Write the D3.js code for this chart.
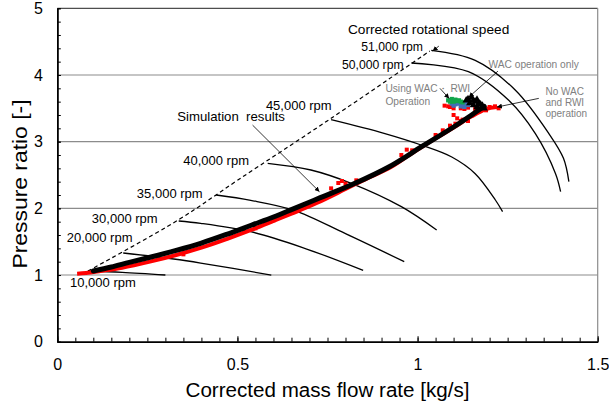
<!DOCTYPE html>
<html>
<head>
<meta charset="utf-8">
<script src="https://cdn.jsdelivr.net/npm/d3@7"></script>
<style>
  body { margin: 0; background: #fff; }
  svg text { font-family: "Liberation Sans", Arial, sans-serif; }
</style>
</head>
<body>
<div id="chart"></div>
<script>
//--------------------------------------Data---------------------------------------------------------------//
let xTicks = [0, 0.5, 1, 1.5]
let yTicks = [0, 1, 2, 3, 4, 5]
let gridValues = [1, 2, 3, 4]

// constant corrected-speed lines [mass flow, pressure ratio]
let speed10k = [[0.085, 1.06], [0.18, 1.04], [0.30, 1.00]]
let speed20k = [[0.183, 1.33], [0.323, 1.24], [0.398, 1.18], [0.594, 1.00]]
let speed30k = [[0.337, 1.81], [0.398, 1.775], [0.537, 1.65], [0.677, 1.42], [0.849, 1.07]]
let speed35k = [[0.441, 2.20], [0.537, 2.12], [0.657, 1.97], [0.80, 1.62], [0.963, 1.20]]
let speed40k = [[0.584, 2.675], [0.704, 2.575], [0.816, 2.375], [0.955, 2.025], [1.053, 1.675]]
let speed45k = [[0.760, 3.33], [0.907, 3.125], [1.01, 2.95], [1.095, 2.77], [1.16, 2.52], [1.216, 2.125], [1.236, 1.95]]
let speed50k = [[0.983, 4.18], [1.141, 4.05], [1.253, 3.62], [1.327, 3.12], [1.383, 2.52], [1.397, 2.25]]
let speed51k = [[1.038, 4.37], [1.160, 4.22], [1.271, 3.775], [1.364, 3.125], [1.405, 2.75], [1.420, 2.40]]
let speedLines = [speed10k, speed20k, speed30k, speed35k, speed40k, speed45k, speed50k, speed51k]

// surge line (dashed)
let surgeLine = [[0.085, 1.06], [0.337, 1.83], [0.50, 2.42], [0.76, 3.35], [1.034, 4.36]]

// simulation results (black)
let simResults = [[0.10, 1.06], [0.15, 1.12], [0.20, 1.19], [0.26, 1.27], [0.33, 1.37], [0.40, 1.48],
  [0.47, 1.61], [0.54, 1.75], [0.60, 1.87], [0.65, 1.98], [0.73, 2.16], [0.82, 2.36], [0.92, 2.62],
  [1.01, 2.92], [1.10, 3.22], [1.15, 3.40], [1.185, 3.53]]

// measured operation, no WAC / RWI (red)
let measured = [[0.055, 1.02], [0.08, 1.03], [0.12, 1.06], [0.18, 1.11], [0.26, 1.205], [0.33, 1.30],
  [0.40, 1.41], [0.47, 1.54], [0.54, 1.68], [0.60, 1.81], [0.65, 1.92], [0.72, 2.08], [0.80, 2.29],
  [0.86, 2.45], [0.92, 2.60], [0.98, 2.81], [1.05, 3.05], [1.10, 3.21], [1.15, 3.38], [1.19, 3.49], [1.22, 3.52]]
let measuredSpread = [[0.35, 1.31], [0.55, 1.70], [0.60, 1.82], [0.76, 2.30], [0.78, 2.38], [0.79, 2.41],
  [0.80, 2.37], [0.83, 2.42], [0.955, 2.80], [0.97, 2.88], [0.985, 2.87], [1.05, 3.10], [1.07, 3.17],
  [1.09, 3.24], [1.105, 3.27], [1.12, 3.31], [1.10, 3.40], [1.11, 3.35], [1.125, 3.33], [1.14, 3.31],
  [1.075, 3.54], [1.09, 3.52], [1.10, 3.50], [1.12, 3.50], [1.14, 3.51], [1.16, 3.49], [1.18, 3.50],
  [1.20, 3.52], [1.215, 3.53], [1.225, 3.50], [1.19, 3.47], [1.085, 3.53], [1.13, 3.49], [1.17, 3.48]]

// WAC and RWI operation (green), blue run, WAC operation only (black)
let wacRwiOp = [[1.085, 3.62], [1.095, 3.64], [1.105, 3.63], [1.115, 3.62], [1.09, 3.60], [1.10, 3.60],
  [1.11, 3.61], [1.12, 3.60], [1.125, 3.59]]
let blueOp = [[1.095, 3.57], [1.105, 3.56], [1.115, 3.57], [1.125, 3.56], [1.135, 3.57], [1.14, 3.55],
  [1.10, 3.54], [1.12, 3.53], [1.13, 3.52]]
let wacOnlyOp = [[1.135, 3.62], [1.14, 3.64], [1.15, 3.66], [1.155, 3.62], [1.16, 3.60], [1.165, 3.63],
  [1.17, 3.58], [1.175, 3.56], [1.18, 3.54], [1.145, 3.58], [1.155, 3.55], [1.165, 3.52], [1.185, 3.50]]

//--------------------------------------Set up Canvas------------------------------------------------------//
let w = 609,
  h = 402;
let padding = {top: 8.3, right: 11.3, bottom: 60.3, left: 57.3};
let width = w - padding.left - padding.right;
let height = h - padding.top - padding.bottom;

let svg = d3.select('#chart').append('svg')
  .attr('width', w)
  .attr('height', h)

let xScale = d3.scaleLinear().domain([0, 1.5]).range([padding.left, padding.left + width])
let yScale = d3.scaleLinear().domain([0, 5]).range([padding.top + height, padding.top])

svg.append('defs').append('marker')
  .attr('id', 'arrow')
  .attr('viewBox', '0 0 6 6')
  .attr('refX', 6).attr('refY', 3)
  .attr('markerWidth', 5).attr('markerHeight', 5)
  .attr('markerUnits', 'userSpaceOnUse')
  .attr('orient', 'auto')
  .append('path').attr('d', 'M0,0L6,3L0,6z').attr('fill', '#000')

// grid lines
svg.append('g').selectAll('line')
  .data(gridValues).enter().append('line')
  .attr('x1', xScale(0)).attr('x2', xScale(1.5))
  .attr('y1', d => yScale(d)).attr('y2', d => yScale(d))
  .attr('stroke', '#8c8c8c').attr('stroke-width', 1.2)

// frame top / right
svg.append('line')
  .attr('x1', xScale(0)).attr('x2', xScale(1.5))
  .attr('y1', yScale(5)).attr('y2', yScale(5))
  .attr('stroke', '#222').attr('stroke-width', 1)
svg.append('line')
  .attr('x1', xScale(1.5)).attr('x2', xScale(1.5))
  .attr('y1', yScale(5)).attr('y2', yScale(0))
  .attr('stroke', '#8c8c8c').attr('stroke-width', 1.2)

//--------------------------------------Axes---------------------------------------------------------------//
let xMinor = d3.range(0, 31).map(i => i * 0.05)
let yMinor = d3.range(0, 26).map(i => i * 0.2)

svg.append('g')
  .attr('transform', 'translate(0,' + yScale(0) + ')')
  .call(d3.axisBottom(xScale).tickValues(xMinor).tickSize(-4).tickSizeOuter(0).tickFormat(''))
svg.append('g')
  .attr('class', 'x-major')
  .attr('transform', 'translate(0,' + yScale(0) + ')')
  .call(d3.axisBottom(xScale).tickValues(xTicks).tickSize(-5.5).tickSizeOuter(0).tickPadding(17)
    .tickFormat(d => d))
svg.append('g')
  .attr('transform', 'translate(' + xScale(0) + ',0)')
  .call(d3.axisLeft(yScale).tickValues(yMinor).tickSize(-3.5).tickSizeOuter(0).tickFormat(''))
svg.append('g')
  .attr('class', 'y-major')
  .attr('transform', 'translate(' + xScale(0) + ',0)')
  .call(d3.axisLeft(yScale).tickValues(yTicks).tickSize(-3.5).tickSizeOuter(0).tickPadding(14.3)
    .tickFormat(d => d))

svg.selectAll('.domain').attr('stroke', '#000').attr('stroke-width', 1.5)
svg.selectAll('.tick line').attr('stroke', '#000').attr('stroke-width', 1)
svg.selectAll('.tick text')
  .style('font-family', '"Liberation Sans", Arial, sans-serif')
  .style('font-size', '16px')
  .attr('fill', '#000')

svg.append('text')
  .text('Corrected mass flow rate [kg/s]')
  .attr('x', xScale(0.75))
  .attr('y', 397)
  .attr('text-anchor', 'middle')
  .attr('textLength', 284)
  .attr('lengthAdjust', 'spacingAndGlyphs')
  .style('font-size', '19.5px')

svg.append('text')
  .text('Pressure ratio [-]')
  .attr('text-anchor', 'middle')
  .attr('textLength', 169)
  .attr('lengthAdjust', 'spacingAndGlyphs')
  .attr('transform', 'translate(26.5,184) rotate(-90)')
  .style('font-size', '19.5px')

//--------------------------------------Lines and points---------------------------------------------------//
let line = d3.line().x(d => xScale(d[0])).y(d => yScale(d[1]))
let smooth = d3.line().x(d => xScale(d[0])).y(d => yScale(d[1])).curve(d3.curveCatmullRom.alpha(0.5))

svg.append('path')
  .datum(surgeLine)
  .attr('d', smooth)
  .attr('fill', 'none')
  .attr('stroke', '#000')
  .attr('stroke-width', 1.2)
  .attr('stroke-dasharray', '4,3')

svg.append('g').selectAll('path')
  .data(speedLines).enter().append('path')
  .attr('d', smooth)
  .attr('fill', 'none')
  .attr('stroke', '#000')
  .attr('stroke-width', 1.3)

// measured (red)
svg.append('path')
  .datum(measured)
  .attr('d', smooth)
  .attr('fill', 'none')
  .attr('stroke', '#ff0000')
  .attr('stroke-width', 4)
let square = d3.symbol().type(d3.symbolSquare).size(16)
svg.append('g').selectAll('path')
  .data(measuredSpread).enter().append('path')
  .attr('d', square)
  .attr('fill', '#ff0000')
  .attr('transform', d => 'translate(' + xScale(d[0]) + ',' + yScale(d[1]) + ')')

// green / blue runs
let dot = d3.symbol().type(d3.symbolSquare).size(18)
svg.append('g').selectAll('path')
  .data(blueOp).enter().append('path')
  .attr('d', dot)
  .attr('fill', '#3f6fb5')
  .attr('transform', d => 'translate(' + xScale(d[0]) + ',' + yScale(d[1]) + ')')
svg.append('g').selectAll('path')
  .data(wacRwiOp).enter().append('path')
  .attr('d', dot)
  .attr('fill', '#11a54a')
  .attr('transform', d => 'translate(' + xScale(d[0]) + ',' + yScale(d[1]) + ')')

// simulation (black)
svg.append('path')
  .datum(simResults)
  .attr('d', smooth)
  .attr('fill', 'none')
  .attr('stroke', '#000')
  .attr('stroke-width', 5)
  .attr('stroke-linecap', 'round')

let tri = d3.symbol().type(d3.symbolTriangle).size(24)
svg.append('g').selectAll('path')
  .data(wacOnlyOp).enter().append('path')
  .attr('d', tri)
  .attr('fill', '#000')
  .attr('transform', d => 'translate(' + xScale(d[0]) + ',' + yScale(d[1]) + ')')

//--------------------------------------Annotations--------------------------------------------------------//
let labels = [
  {text: 'Corrected rotational speed', x: 0.8068, y: 4.613, size: 13.7},
  {text: '51,000 rpm', x: 0.8439, y: 4.358, size: 12.2},
  {text: '50,000 rpm', x: 0.7901, y: 4.088, size: 12.2},
  {text: '45,000 rpm', x: 0.5790, y: 3.474, size: 13},
  {text: '40,000 rpm', x: 0.3496, y: 2.649, size: 13},
  {text: '35,000 rpm', x: 0.2208, y: 2.154, size: 13},
  {text: '30,000 rpm', x: 0.0959, y: 1.787, size: 13},
  {text: '20,000 rpm', x: 0.0262, y: 1.495, size: 13},
  {text: '10,000 rpm', x: 0.0354, y: 0.820, size: 13},
  {text: 'Simulation  results', x: 0.3329, y: 3.316, size: 13.2},
  {text: 'WAC operation only', x: 1.1971, y: 4.111, size: 10.2, color: '#808080'},
  {text: 'Using WAC・ RWI', x: 0.9108, y: 3.751, size: 10.2, color: '#808080'},
  {text: 'Operation', x: 0.9108, y: 3.556, size: 10.2, color: '#808080'},
  {text: 'No WAC', x: 1.3549, y: 3.705, size: 10, color: '#808080'},
  {text: 'and RWI', x: 1.3549, y: 3.532, size: 10, color: '#808080'},
  {text: 'operation', x: 1.3549, y: 3.368, size: 10, color: '#808080'}
]

svg.append('g').selectAll('text')
  .data(labels).enter().append('text')
  .text(d => d.text)
  .attr('x', d => xScale(d.x))
  .attr('y', d => yScale(d.y))
  .attr('fill', d => d.color || '#000')
  .style('font-size', d => d.size + 'px')
  .style('white-space', 'pre')

let arrows = [
  [[1.0591, 4.433], [1.0418, 4.358]],
  [[0.5420, 3.248], [0.7277, 2.249]],
  [[1.2231, 4.058], [1.1421, 3.667]],
  [[1.0622, 3.799], [1.0878, 3.646]],
  [[1.3365, 3.649], [1.2203, 3.519]]
]
svg.append('g').selectAll('path')
  .data(arrows).enter().append('path')
  .attr('d', line)
  .attr('fill', 'none')
  .attr('stroke', '#000')
  .attr('stroke-width', 0.8)
  .attr('marker-end', 'url(#arrow)')
</script>
</body>
</html>
